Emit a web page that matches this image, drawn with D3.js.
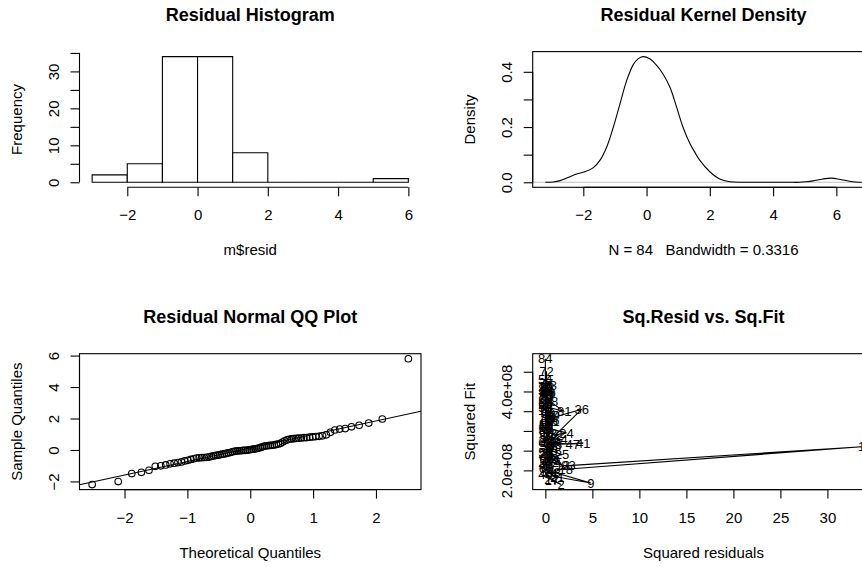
<!DOCTYPE html>
<html><head><meta charset="utf-8">
<script src="https://cdn.jsdelivr.net/npm/d3@7"></script>
<style>
body{margin:0;background:#fff;}
svg{display:block;font-family:"Liberation Sans",Arial,Helvetica,sans-serif;}
text{white-space:pre;}
.lbls{opacity:0.999;}
</style></head><body>
<svg id="chart" width="862" height="567"></svg>
<script>
// ---------------- data ----------------
const histBreaks = [-3,-2,-1,0,1,2,3,4,5,6];
const rowNames = ["53","11","62","70","72","29","20","57","8","65","50","78","81","44","30","36","12","24","5","60",
  "47","41","33","15","25","68","19","3","18","1","83","38","9","21","27","2","17","46","75","42",
  "13","7","55","35","48","22","63","4","59","31","40","10","66","52","28","6","77","80","84","54",
  "43","16","71","37","26","67","58","14","45","23","69","32","61","34","74","49","39","56","64","51",
  "76","73","79","82"];
const residuals = [0.29,-0.76,0.05,-0.06,0.35,0.42,0.03,-0.30,0.64,-0.16,0.58,-0.19,-1.42,0.20,-0.48,1.97,-1.04,-1.50,0.74,-0.07,
  1.71,-2.01,-1.01,0.76,1.33,-0.33,0.90,-0.50,1.47,5.80,1.57,-0.95,-2.20,1.12,0.81,-1.29,-0.84,0.16,-0.38,0.83,
  1.36,-0.60,0.12,0.96,-0.66,0.09,0.70,-0.41,0.26,-0.88,0.87,-0.25,0.50,-0.12,0.78,-0.70,0.24,-0.03,0.01,-0.02,
  0.68,-0.51,0.32,-0.80,0.85,-0.27,0.38,-0.56,0.75,-0.09,0.79,-0.35,0.28,-0.49,0.72,-0.22,0.30,-0.47,1.27,-0.05,
  -0.04,0.07,-0.01,-0.45];
const squaredFit = [3.10e8,3.35e8,3.80e8,4.10e8,4.51e8,4.00e8,4.12e8,3.85e8,4.05e8,3.70e8,3.95e8,3.82e8,3.49e8,3.62e8,3.30e8,3.55e8,2.90e8,2.95e8,3.05e8,2.70e8,
  2.67e8,2.69e8,2.66e8,2.50e8,2.40e8,2.30e8,2.25e8,2.55e8,2.03e8,2.60e8,2.12e8,1.95e8,1.68e8,1.83e8,1.78e8,1.64e8,1.75e8,1.90e8,2.10e8,2.20e8,
  2.13e8,2.35e8,2.45e8,2.60e8,2.80e8,2.75e8,2.95e8,3.00e8,3.15e8,3.25e8,3.40e8,3.20e8,3.45e8,3.60e8,3.75e8,3.90e8,4.20e8,4.08e8,4.83e8,4.30e8,
  4.15e8,3.98e8,3.55e8,3.40e8,3.28e8,3.00e8,2.85e8,2.72e8,2.58e8,2.42e8,2.30e8,2.18e8,2.05e8,1.98e8,1.92e8,2.15e8,2.38e8,2.62e8,2.78e8,3.05e8,
  3.32e8,3.60e8,3.85e8,4.10e8];
const densityX = [-3.2,-2.95,-2.73,-2.47,-2.21,-1.95,-1.68,-1.47,-1.26,-1.05,-0.84,-0.63,-0.42,-0.27,-0.11,0.10,0.32,0.52,0.74,0.95,
  1.15,1.37,1.52,1.68,2.0,2.31,2.63,3.0,3.47,4.0,4.5,4.84,5.05,5.26,5.57,5.84,6.10,6.41,6.6,6.8];
const densityY = [0.000,0.001,0.006,0.018,0.030,0.038,0.053,0.080,0.128,0.200,0.284,0.368,0.426,0.447,0.455,0.447,0.423,0.392,0.344,0.272,
  0.200,0.140,0.110,0.080,0.038,0.012,0.002,0.000,0.000,0.000,0.000,0.000,0.002,0.005,0.012,0.015,0.011,0.004,0.001,0.000];

const histXTicks = [-2,0,2,4,6];
const histYTicks = [0,5,10,15,20,25,30,35];
const histYLabels = [0,10,20,30];
const densXTicks = [-2,0,2,4,6];
const densYTicks = [0,0.1,0.2,0.3,0.4];
const densYLabels = ["0.0","0.2","0.4"];
const qqXTicks = [-2,-1,0,1,2];
const qqYTicks = [-2,0,2,4,6];
const sqXTicks = [0,5,10,15,20,25,30];
const sqYTicks = [2.0e8,2.5e8,3.0e8,3.5e8,4.0e8,4.5e8];
const sqYLabels = ["2.0e+08","4.0e+08"];

const titles = ["Residual Histogram","Residual Kernel Density","Residual Normal QQ Plot","Sq.Resid vs. Sq.Fit"];
const xTitles = ["m$resid","N = 84   Bandwidth = 0.3316","Theoretical Quantiles","Squared residuals"];
const yTitles = ["Frequency","Density","Sample Quantiles","Squared Fit"];

// ---------------- layout ----------------
const svg = d3.select("#chart");
const LW = 1.1;
const cols = [[79.5,421],[532.7,874.3]];
const rows = [[51.6,187.3],[353.7,489.6]];
const fmtMinus = v => String(v).replace("-","\u2212");
const rExpand = ([a,b]) => { const d=(b-a)*0.04; return [a-d,b+d]; };

function qnorm(p){
  const a=[-3.969683028665376e+01,2.209460984245205e+02,-2.759285104469687e+02,1.383577518672690e+02,-3.066479806614716e+01,2.506628277459239e+00];
  const b=[-5.447609879822406e+01,1.615858368580409e+02,-1.556989798598866e+02,6.680131188771972e+01,-1.328068155288572e+01];
  const c=[-7.784894002430293e-03,-3.223964580411365e-01,-2.400758277161838e+00,-2.549732539343734e+00,4.374664141464968e+00,2.938163982698783e+00];
  const d=[7.784695709041462e-03,3.224671290700398e-01,2.445134137142996e+00,3.754408661907416e+00];
  const pl=0.02425, ph=1-pl; let q,r;
  if(p<pl){q=Math.sqrt(-2*Math.log(p));return (((((c[0]*q+c[1])*q+c[2])*q+c[3])*q+c[4])*q+c[5])/((((d[0]*q+d[1])*q+d[2])*q+d[3])*q+1);}
  if(p<=ph){q=p-0.5;r=q*q;return (((((a[0]*r+a[1])*r+a[2])*r+a[3])*r+a[4])*r+a[5])*q/(((((b[0]*r+b[1])*r+b[2])*r+b[3])*r+b[4])*r+1);}
  q=Math.sqrt(-2*Math.log(1-p));return -(((((c[0]*q+c[1])*q+c[2])*q+c[3])*q+c[4])*q+c[5])/((((d[0]*q+d[1])*q+d[2])*q+d[3])*q+1);
}

function decorate(i, xr, yr){
  const [x0,x1] = xr, [y0,y1] = yr, cx=(x0+x1)/2, cy=(y0+y1)/2;
  svg.append("text").attr("x",cx).attr("y",y0-30.7).attr("text-anchor","middle")
    .attr("font-size",18).attr("font-weight","bold").text(titles[i]);
  svg.append("text").attr("x",cx).attr("y",y1+68).attr("text-anchor","middle")
    .attr("xml:space","preserve").attr("font-size",15).text(xTitles[i]);
  svg.append("text").attr("transform",`translate(${x0-57.5},${cy}) rotate(-90)`).attr("text-anchor","middle")
    .attr("font-size",15).text(yTitles[i]);
}
function box(xr, yr){
  svg.append("rect").attr("x",xr[0]).attr("y",yr[0]).attr("width",xr[1]-xr[0]).attr("height",yr[1]-yr[0])
    .attr("fill","none").attr("stroke","#000").attr("stroke-width",LW);
}
function xAxis(scale, ticks, fmt, y){
  const g = svg.append("g").attr("transform",`translate(0,${y})`)
    .call(d3.axisBottom(scale).tickValues(ticks).tickSize(9).tickSizeOuter(0).tickFormat(fmt));
  g.select(".domain").remove();
  g.append("line").attr("x1",scale(ticks[0])).attr("x2",scale(ticks[ticks.length-1])).attr("stroke","#000").attr("stroke-width",LW);
  g.selectAll(".tick line").attr("stroke","#000").attr("stroke-width",LW);
  g.selectAll(".tick text").attr("y",33).attr("dy",null).attr("font-size",15).attr("fill","#000").attr("font-family",null);
}
function yAxis(scale, ticks, fmt, x){
  const g = svg.append("g").attr("transform",`translate(${x},0)`)
    .call(d3.axisLeft(scale).tickValues(ticks).tickSize(9).tickSizeOuter(0).tickFormat(fmt));
  g.select(".domain").remove();
  g.append("line").attr("y1",scale(ticks[0])).attr("y2",scale(ticks[ticks.length-1])).attr("stroke","#000").attr("stroke-width",LW);
  g.selectAll(".tick line").attr("stroke","#000").attr("stroke-width",LW);
  g.selectAll(".tick text").attr("x",null).attr("dy",null).attr("text-anchor","middle")
    .attr("transform","translate(-21,0) rotate(-90)").attr("font-size",15).attr("fill","#000").attr("font-family",null);
}

// ---------------- 1. histogram ----------------
{
  const xr=cols[0], yr=rows[0];
  const bins = d3.bin().domain([histBreaks[0],histBreaks[histBreaks.length-1]]).thresholds(histBreaks.slice(1,-1))(residuals);
  const x = d3.scaleLinear().domain(rExpand([histBreaks[0],histBreaks[histBreaks.length-1]])).range(xr);
  const y = d3.scaleLinear().domain(rExpand([0,d3.max(bins,b=>b.length)])).range([yr[1],yr[0]]);
  svg.append("g").selectAll("path").data(bins).join("path")
    .attr("d",b=>`M${x(b.x0)},${y(0)}V${y(b.length)}H${x(b.x1)}V${y(0)}Z`)
    .attr("fill","#fff").attr("stroke","#000").attr("stroke-width",LW);
  xAxis(x, histXTicks, fmtMinus, yr[1]);
  yAxis(y, histYTicks, v=>histYLabels.includes(v)?String(v):"", xr[0]);
  decorate(0,xr,yr);
}
// ---------------- 2. density ----------------
{
  const xr=cols[1], yr=rows[0];
  const x = d3.scaleLinear().domain(rExpand(d3.extent(densityX))).range(xr);
  const y = d3.scaleLinear().domain(rExpand([0,d3.max(densityY)])).range([yr[1],yr[0]]);
  svg.append("line").attr("x1",xr[0]).attr("x2",xr[1]).attr("y1",y(0)).attr("y2",y(0))
    .attr("stroke","#bebebe").attr("stroke-width",LW);
  svg.append("path").datum(densityX.map((d,i)=>[d,densityY[i]]))
    .attr("d",d3.line().x(d=>x(d[0])).y(d=>y(d[1])).curve(d3.curveCatmullRom))
    .attr("fill","none").attr("stroke","#000").attr("stroke-width",LW);
  box(xr,yr);
  xAxis(x, densXTicks, fmtMinus, yr[1]);
  yAxis(y, densYTicks, v=>{const s=v.toFixed(1);return densYLabels.includes(s)?s:"";}, xr[0]);
  decorate(1,xr,yr);
}
// ---------------- 3. QQ plot ----------------
{
  const xr=cols[0], yr=rows[1];
  const n = residuals.length;
  const sorted = residuals.slice().sort(d3.ascending);
  const theo = sorted.map((_,i)=>qnorm((i+0.5)/n));
  const x = d3.scaleLinear().domain(rExpand(d3.extent(theo))).range(xr);
  const y = d3.scaleLinear().domain(rExpand(d3.extent(sorted))).range([yr[1],yr[0]]);
  const q1=d3.quantileSorted(sorted,0.25), q3=d3.quantileSorted(sorted,0.75);
  const t1=qnorm(0.25), t3=qnorm(0.75);
  const slope=(q3-q1)/(t3-t1), icpt=q1-slope*t1;
  svg.append("clipPath").attr("id","qqclip").append("rect")
    .attr("x",xr[0]).attr("y",yr[0]).attr("width",xr[1]-xr[0]).attr("height",yr[1]-yr[0]);
  const [dx0,dx1]=x.domain();
  svg.append("line").attr("clip-path","url(#qqclip)")
    .attr("x1",x(dx0)).attr("y1",y(icpt+slope*dx0)).attr("x2",x(dx1)).attr("y2",y(icpt+slope*dx1))
    .attr("stroke","#000").attr("stroke-width",LW);
  svg.append("g").selectAll("circle").data(sorted).join("circle")
    .attr("cx",(d,i)=>x(theo[i])).attr("cy",d=>y(d)).attr("r",3.3)
    .attr("fill","none").attr("stroke","#000").attr("stroke-width",LW);
  box(xr,yr);
  xAxis(x, qqXTicks, fmtMinus, yr[1]);
  yAxis(y, qqYTicks, fmtMinus, xr[0]);
  decorate(2,xr,yr);
}
// ---------------- 4. sq resid vs sq fit ----------------
{
  const xr=cols[1], yr=rows[1];
  const sq = residuals.map(r=>r*r);
  const x = d3.scaleLinear().domain(rExpand(d3.extent(sq))).range(xr);
  const y = d3.scaleLinear().domain(rExpand(d3.extent(squaredFit))).range([yr[1],yr[0]]);
  const pts = sq.map((d,i)=>[d,squaredFit[i]]);
  svg.append("path").datum(pts)
    .attr("d",d3.line().x(d=>x(d[0])).y(d=>y(d[1])))
    .attr("fill","none").attr("stroke","#000").attr("stroke-width",LW);
  svg.append("g").attr("class","lbls").selectAll("text").data(pts).join("text")
    .attr("x",d=>x(d[0])).attr("y",d=>y(d[1])).attr("dy","0.36em").attr("text-anchor","middle")
    .attr("font-size",13).attr("fill","#000").text((d,i)=>rowNames[i]);
  box(xr,yr);
  xAxis(x, sqXTicks, fmtMinus, yr[1]);
  yAxis(y, sqYTicks, v=>{const s=(v/1e8).toFixed(1)+"e+08";return sqYLabels.includes(s)?s:"";}, xr[0]);
  decorate(3,xr,yr);
}
</script>
</body></html>
